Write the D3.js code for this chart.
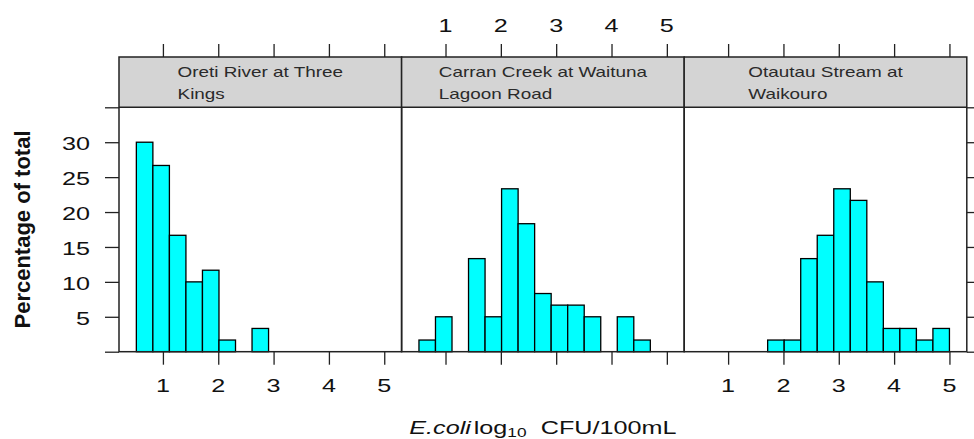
<!DOCTYPE html>
<html>
<head>
<meta charset="utf-8">
<script src="https://cdn.jsdelivr.net/npm/d3@7"></script>
<style>
  body { margin: 0; background: #fff; }
  text { font-family: "Liberation Sans", Arial, Helvetica, sans-serif; fill: #111; }
</style>
</head>
<body>
<div id="chart"></div>
<script>
// histogram breaks (log10 CFU/100mL), same for all three panels
const breakMin = 0.52
const breakMax = 5.0
const nBins = 15

const sites = [
    ['Oreti River at Three', 'Kings'],
    ['Carran Creek at Waituna', 'Lagoon Road'],
    ['Otautau Stream at', 'Waikouro']
]

// percent of total in each bin
const oreti = [30, 26.67, 16.67, 10, 11.67, 1.67, 0, 3.33, 0, 0, 0, 0, 0, 0, 0]
const carran = [1.67, 5, 0, 13.33, 5, 23.33, 18.33, 8.33, 6.67, 6.67, 5, 0, 5, 1.67, 0]
const otautau = [0, 0, 0, 0, 1.67, 1.67, 13.33, 16.67, 23.33, 21.67, 10, 3.33, 3.33, 1.67, 3.33]
const percents = [oreti, carran, otautau]

const xTicks = [1, 2, 3, 4, 5]
const yTicks = [0, 5, 10, 15, 20, 25, 30, 35]
const yLabels = [5, 10, 15, 20, 25, 30]

const width = 974
const height = 439
const left = 119
const panelW = 282.6
const stripTop = 57
const plotTop = 107.3
const plotBottom = 351.7
const tickLen = 13
const sx = 1.4   // the reference text is stretched sideways

const svg = d3.select('#chart').append('svg')
    .attr('width', width)
    .attr('height', height)

const binW = (breakMax - breakMin) / nBins
const pad = 0.07 * (breakMax - breakMin)
const y = d3.scaleLinear().domain([0, 35]).range([plotBottom, plotTop])

// text drawn inside a scaled group so it gets the same wide look
function wideText (x, yy, str, size, anchor, scale) {
    return svg.append('g')
        .attr('transform', `translate(${x},${yy}) scale(${scale || sx},1)`)
        .append('text')
        .attr('text-anchor', anchor || 'middle')
        .style('font-size', size + 'px')
        .text(str)
}

percents.forEach((vals, p) => {
    const x0 = left + p * panelW
    const x = d3.scaleLinear()
        .domain([breakMin - pad, breakMax + pad])
        .range([x0, x0 + panelW])

    // strip
    svg.append('rect')
        .attr('x', x0).attr('y', stripTop)
        .attr('width', panelW).attr('height', plotTop - stripTop)
        .attr('fill', '#d4d4d4')

    const lines = sites[p].map((s, i) => wideText(0, 0, s, 14, 'start', 1.35))
    const maxW = d3.max(lines, t => t.node().getComputedTextLength() * 1.35)
    const tx = x0 + panelW / 2 - maxW / 2
    lines.forEach((t, i) => {
        d3.select(t.node().parentNode).attr('transform', `translate(${tx},${77 + i * 21.7}) scale(1.35,1)`)
        t.style('fill', '#2a2a2a')
    })

    // bars
    const bins = vals.map((v, i) => ({ lo: breakMin + i * binW, hi: breakMin + (i + 1) * binW, v }))
    svg.append('g').selectAll('rect')
        .data(bins)
        .join('rect')
        .attr('x', d => x(d.lo))
        .attr('width', d => x(d.hi) - x(d.lo))
        .attr('y', d => y(d.v))
        .attr('height', d => y(0) - y(d.v))
        .attr('fill', '#00ffff')
        .attr('stroke', '#000')
        .attr('stroke-width', 1.3)

    // top and bottom ticks
    const bottom = svg.append('g')
        .attr('transform', `translate(0,${plotBottom})`)
        .call(d3.axisBottom(x).tickValues(xTicks).tickSize(tickLen).tickSizeOuter(0).tickFormat(''))
    const top = svg.append('g')
        .attr('transform', `translate(0,${stripTop})`)
        .call(d3.axisTop(x).tickValues(xTicks).tickSize(tickLen).tickSizeOuter(0).tickFormat(''))
    ;[bottom, top].forEach(a => {
        a.select('.domain').remove()
        a.selectAll('line').attr('stroke', '#222').attr('stroke-width', 1.3)
    })

    // labels alternate: bottom for panels 1 and 3, top for panel 2
    xTicks.forEach(v => {
        if (p === 1) wideText(x(v), 32, v, 18)
        else wideText(x(v), 392, v, 18)
    })

    // panel + strip borders
    svg.append('rect')
        .attr('x', x0).attr('y', stripTop)
        .attr('width', panelW).attr('height', plotBottom - stripTop)
        .attr('fill', 'none')
        .attr('stroke', '#222')
        .attr('stroke-width', 1.5)
    svg.append('line')
        .attr('x1', x0).attr('x2', x0 + panelW)
        .attr('y1', plotTop).attr('y2', plotTop)
        .attr('stroke', '#222')
        .attr('stroke-width', 1.5)
})

// y axes, left labelled, right ticks only
const yl = svg.append('g')
    .attr('transform', `translate(${left},0)`)
    .call(d3.axisLeft(y).tickValues(yTicks).tickSize(tickLen + 1).tickSizeOuter(0).tickFormat(''))
const yr = svg.append('g')
    .attr('transform', `translate(${left + 3 * panelW},0)`)
    .call(d3.axisRight(y).tickValues(yTicks).tickSize(tickLen).tickSizeOuter(0).tickFormat(''))
;[yl, yr].forEach(a => {
    a.select('.domain').remove()
    a.selectAll('line').attr('stroke', '#222').attr('stroke-width', 1.3)
})
yLabels.forEach(v => wideText(90, y(v) + 8, v, 18, 'end'))

// axis titles
svg.append('text')
    .attr('transform', `translate(30,${(plotTop + plotBottom) / 2}) rotate(-90)`)
    .attr('text-anchor', 'middle')
    .style('font-size', '22px')
    .style('font-weight', 'bold')
    .text('Percentage of total')

const xt = wideText(left + 1.5 * panelW, 434, '', 17.5, 'middle', 1.44)
xt.append('tspan').style('font-style', 'italic').text('E.coli')
xt.append('tspan').attr('dx', 2).text('log')
xt.append('tspan').attr('dy', 3).style('font-size', '12px').text('10')
xt.append('tspan').attr('dy', -3).attr('dx', 5).text(' CFU/100mL')
</script>
</body>
</html>
